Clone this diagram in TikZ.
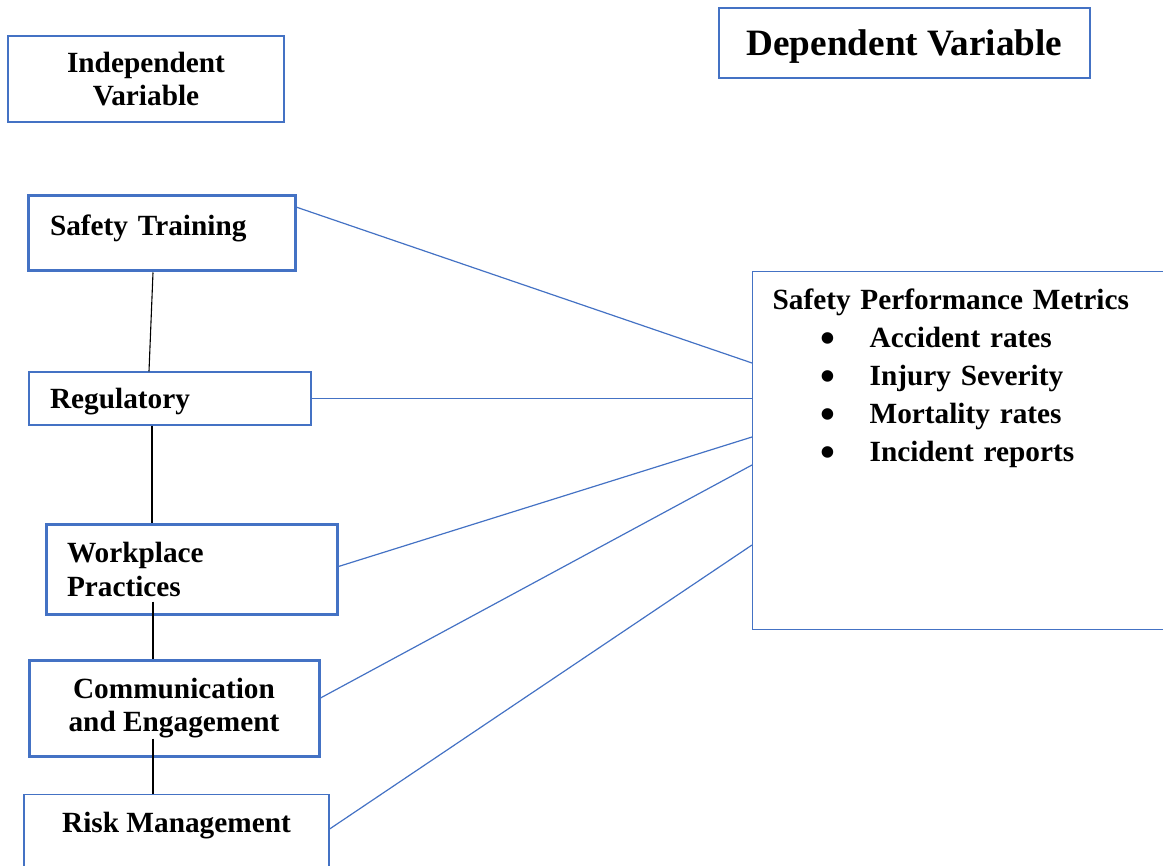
\documentclass[tikz,border=0pt]{standalone}
\usepackage{fontspec}
\setmainfont{Liberation Serif}
\definecolor{boxblue}{HTML}{4472C4}
\newcommand{\metricitem}{\hspace*{55pt}\makebox[0pt]{\raisebox{-5pt}{\scalebox{1.45}{\textbullet}}}\hspace*{42pt}}

\begin{document}
\begin{tikzpicture}[x=1pt, y=-1pt,
    box/.style = {draw=boxblue, line width=1.2pt, inner ysep=0pt,
                  font=\bfseries\fontsize{29.3}{33.5}\selectfont},
    thickbox/.style = {box, line width=3pt},
    link/.style = {draw=boxblue, line width=1.2pt},
    joint/.style = {draw=black, line width=1.1pt}]
    \path[use as bounding box, clip] (0,0) rectangle (1163,866);

    \node (indep) [box, minimum width=276pt, minimum height=86pt, align=center] at (146,79) {Independent\\Variable};
    \node (dep) [box, minimum width=371pt, minimum height=70pt, text depth=0pt,
                 font=\bfseries\fontsize{37.2}{44}\selectfont] at (904.5,43) {Dependent Variable};

    \node (train) [thickbox, inner xsep=22pt, text width=223pt, minimum height=75pt, text depth=17pt, align=left] at (161.5,233.5) {Safety Training};
    \node (reg) [box, inner xsep=21pt, text width=240pt, minimum height=53pt, text depth=0pt, align=left] at (170,398.5) {Regulatory};
    \node (work) [thickbox, inner xsep=21pt, text width=249pt, minimum height=89pt, align=left] at (191.5,569.5) {Workplace\\Practices};
    \node (comm) [thickbox, minimum width=290pt, minimum height=96pt, align=center] at (174,708) {Communication\\and Engagement};
    \node (risk) [box, anchor=north, minimum width=305pt, inner ysep=18pt, text depth=60pt] at (176.5,794) {Risk Management};

    \node (metrics) [box, anchor=north west, inner xsep=20pt, inner ysep=17pt, text width=400pt, text depth=303pt, align=left,
                     font=\bfseries\fontsize{29.3}{38}\selectfont] at (752,271)
        {Safety Performance Metrics\\
         \metricitem Accident rates\\
         \metricitem Injury Severity\\
         \metricitem Mortality rates\\
         \metricitem Incident reports};

    % links to the dependent variable
    \path[link] ([xshift=-2pt,yshift=-12pt]train.north east) -- ([yshift=-92pt]metrics.north west);
    \path[link] (reg.east) -- (reg.east -| metrics.west);
    \path[link] ([yshift=3pt]work.east) -- ([yshift=-166pt]metrics.north west);
    \path[link] ([yshift=10pt]comm.east) -- ([yshift=-194pt]metrics.north west);
    \path[link] ([yshift=-35pt]risk.north east) -- ([yshift=-274pt]metrics.north west);

    % chain of independent variables
    \path[joint] ([xshift=-8.5pt]train.south) -- ([xshift=-21pt]reg.north);
    \path[joint] ([xshift=-18pt]reg.south) -- ([xshift=-39.5pt]work.north);
    \path[joint] ([xshift=-38.5pt,yshift=14pt]work.south) -- ([xshift=-21pt]comm.north);
    \path[joint] ([xshift=-21pt,yshift=19pt]comm.south) -- ([xshift=-23.5pt]risk.north);
\end{tikzpicture}
\end{document}
